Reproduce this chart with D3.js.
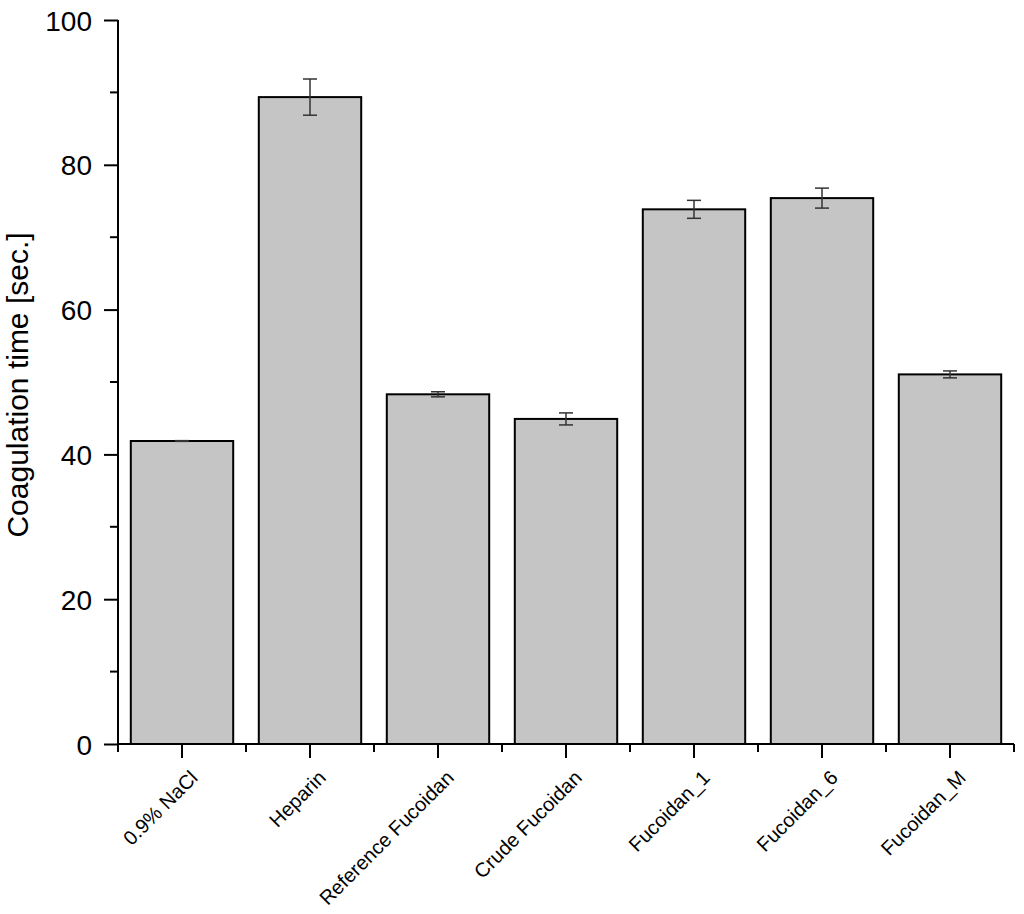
<!DOCTYPE html>
<html>
<head>
<meta charset="utf-8">
<script src="https://cdn.jsdelivr.net/npm/d3@7"></script>
<style>
  body { margin: 0; background: #fff; }
  text { font-family: "Liberation Sans", Arial, sans-serif; fill: #000; }
</style>
</head>
<body>
<div id="chart"></div>
<script>
// data
var categories = ["0.9% NaCl", "Heparin", "Reference Fucoidan", "Crude Fucoidan", "Fucoidan_1", "Fucoidan_6", "Fucoidan_M"];
var means = [41.85, 89.35, 48.3, 44.9, 73.85, 75.4, 51.05];
var errors = [0.05, 2.5, 0.35, 0.83, 1.24, 1.38, 0.48];
var yTicks = [0, 20, 40, 60, 80, 100];
var yMinorTicks = [10, 30, 50, 70, 90];

var width = 1024, height = 914;
var margin = { left: 118, right: 10, top: 20, bottom: 170 };

var svg = d3.select("#chart").append("svg")
    .attr("width", width)
    .attr("height", height);

var xScale = d3.scaleBand()
    .domain(categories)
    .range([margin.left, width - margin.right])
    .paddingInner(0.2)
    .paddingOuter(0.1);

// band scale without padding, for tick boundaries
var xOuter = d3.scaleBand()
    .domain(categories)
    .range([margin.left, width - margin.right]);

var yScale = d3.scaleLinear()
    .domain([0, 100])
    .range([height - margin.bottom, margin.top]);

var data = categories.map(function(c, i) {
    return { name: c, value: means[i], err: errors[i] };
});

// bars
svg.append("g").selectAll("rect")
    .data(data)
    .enter().append("rect")
    .attr("x", function(d) { return xScale(d.name); })
    .attr("y", function(d) { return yScale(d.value); })
    .attr("width", xScale.bandwidth())
    .attr("height", function(d) { return yScale(0) - yScale(d.value); })
    .attr("fill", "#c5c5c5")
    .attr("stroke", "#000")
    .attr("stroke-width", 2);

// error bars
var eb = svg.append("g").selectAll("g")
    .data(data)
    .enter().append("g")
    .attr("stroke", "#333")
    .attr("stroke-width", 1.5);

eb.append("line")
    .attr("x1", function(d) { return xScale(d.name) + xScale.bandwidth() / 2; })
    .attr("x2", function(d) { return xScale(d.name) + xScale.bandwidth() / 2; })
    .attr("y1", function(d) { return yScale(d.value - d.err); })
    .attr("y2", function(d) { return yScale(d.value + d.err); });

[-1, 1].forEach(function(sgn) {
    eb.append("line")
        .attr("x1", function(d) { return xScale(d.name) + xScale.bandwidth() / 2 - 7; })
        .attr("x2", function(d) { return xScale(d.name) + xScale.bandwidth() / 2 + 7; })
        .attr("y1", function(d) { return yScale(d.value + sgn * d.err); })
        .attr("y2", function(d) { return yScale(d.value + sgn * d.err); });
});

// y axis
var yAxis = d3.axisLeft(yScale)
    .tickValues(yTicks)
    .tickSize(14)
    .tickPadding(12);

var gy = svg.append("g")
    .attr("transform", "translate(" + margin.left + ",0)")
    .call(yAxis);
gy.select(".domain").attr("stroke", "#000").attr("stroke-width", 2)
    .attr("d", "M0," + yScale(100) + "V" + yScale(0));
gy.selectAll(".tick line").attr("stroke-width", 2);
gy.selectAll("text")
    .style("font-size", "28px")
    .attr("dy", "0.36em");

gy.selectAll(".minor")
    .data(yMinorTicks)
    .enter().append("line")
    .attr("class", "minor")
    .attr("x1", -8).attr("x2", 0)
    .attr("y1", function(d) { return yScale(d); })
    .attr("y2", function(d) { return yScale(d); })
    .attr("stroke", "#000")
    .attr("stroke-width", 2);

// x axis
var xAxis = d3.axisBottom(xScale)
    .tickSize(14)
    .tickFormat("");

var gx = svg.append("g")
    .attr("transform", "translate(0," + yScale(0) + ")")
    .call(xAxis);
gx.select(".domain").attr("stroke", "#000").attr("stroke-width", 2)
    .attr("d", "M" + margin.left + ",0H" + (width - margin.right));
gx.selectAll(".tick line").attr("stroke-width", 2);

var bounds = categories.map(function(c) { return xOuter(c); }).concat([width - margin.right]);
gx.selectAll(".minor")
    .data(bounds)
    .enter().append("line")
    .attr("class", "minor")
    .attr("x1", function(d) { return d; })
    .attr("x2", function(d) { return d; })
    .attr("y1", 0).attr("y2", 8)
    .attr("stroke", "#000")
    .attr("stroke-width", 2);

// category labels, rotated
svg.append("g").selectAll("text")
    .data(categories)
    .enter().append("text")
    .attr("text-anchor", "end")
    .attr("transform", function(d) {
        var cx = xScale(d) + xScale.bandwidth() / 2;
        return "translate(" + (cx + 17) + "," + (yScale(0) + 35) + ")rotate(-45)";
    })
    .style("font-size", "20px")
    .text(function(d) { return d; });

// y axis title
svg.append("text")
    .attr("text-anchor", "middle")
    .attr("transform", "translate(28," + ((yScale(0) + yScale(100)) / 2 + 3) + ")rotate(-90)")
    .style("font-size", "30px")
    .text("Coagulation time [sec.]");
</script>
</body>
</html>
